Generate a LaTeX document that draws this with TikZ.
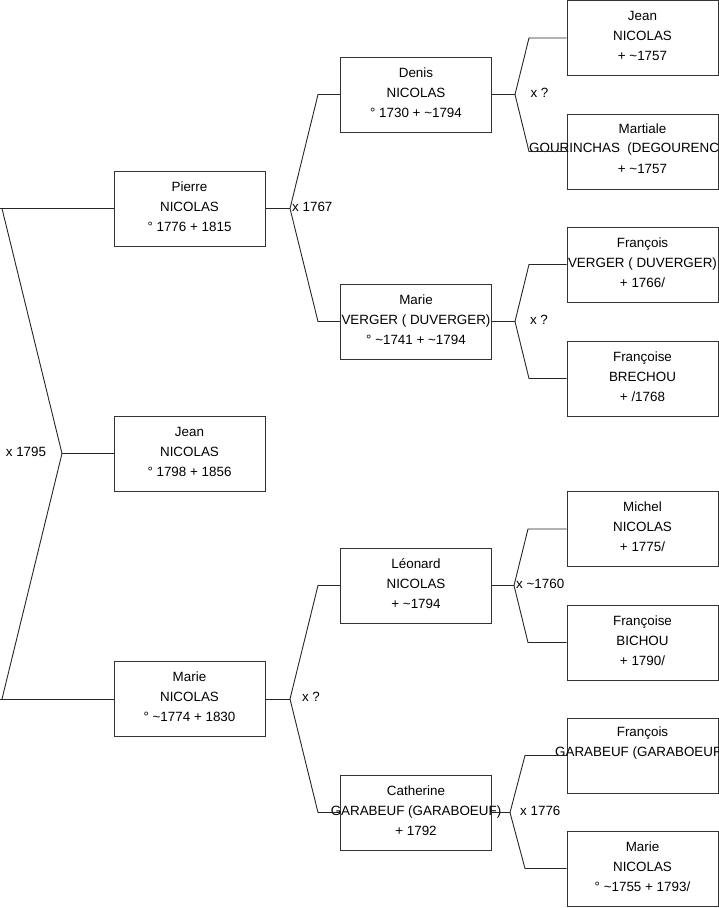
\documentclass[tikz,border=0pt]{standalone}
\usepackage{fontspec}
\setmainfont{Liberation Sans}
\begin{document}
\begin{tikzpicture}[x=1pt,y=-1pt,
  person/.style={draw=black!80, line width=0.9pt, minimum width=151pt, minimum height=75pt,
    inner sep=0pt},
  txt/.style={inner sep=0pt, align=center, yshift=2pt, font=\fontsize{13.4}{20}\selectfont},
  lbl/.style={inner sep=0pt, font=\fontsize{13.4}{20}\selectfont},
  link/.style={draw=black!85, line width=0.9pt}]
\useasboundingbox (0,0) rectangle (719,908);
% generation 1
\node[person, label={[txt]center:{Pierre\\NICOLAS\\° 1776 + 1815}}] (pierre) at (189.5,208.5) {};
\node[person, label={[txt]center:{Jean\\NICOLAS\\° 1798 + 1856}}] (jeanN) at (189.5,453.5) {};
\node[person, label={[txt]center:{Marie\\NICOLAS\\° \textasciitilde 1774 + 1830}}] (marieN) at (189.5,699) {};
% generation 2
\node[person, label={[txt]center:{Denis\\NICOLAS\\° 1730 + \textasciitilde 1794}}] (denis) at (416,94.5) {};
\node[person, label={[txt]center:{Marie\\VERGER ( DUVERGER)\\° \textasciitilde 1741 + \textasciitilde 1794}}] (marieV) at (416,321.5) {};
\node[person, label={[txt]center:{Léonard\\NICOLAS\\+ \textasciitilde 1794}}] (leonard) at (416,585.5) {};
\node[person, label={[txt]center:{Catherine\\GARABEUF (GARABOEUF)\\+ 1792}}] (catherine) at (416,812.5) {};
% generation 3
\node[person, label={[txt]center:{Jean\\NICOLAS\\+ \textasciitilde 1757}}] (jeanR) at (642.5,38) {};
\node[person] (martiale) at (642.5,151.5) {};
\node[lbl] at (642.5,129) {Martiale};
\node[lbl, anchor=west] at (529,149) {GOURINCHAS\ \ (DEGOURENC};
\node[lbl] at (642.5,169) {+ \textasciitilde 1757};
\node[person, label={[txt]center:{François\\VERGER ( DUVERGER)\\+ 1766/}}] (francoisV) at (642.5,264.5) {};
\node[person, label={[txt]center:{Françoise\\BRECHOU\\+ /1768}}] (francoiseB) at (642.5,378.5) {};
\node[person, label={[txt]center:{Michel\\NICOLAS\\+ 1775/}}] (michel) at (642.5,529) {};
\node[person, label={[txt]center:{Françoise\\BICHOU\\+ 1790/}}] (francoiseBi) at (642.5,642.5) {};
\node[person] (francoisG) at (642.5,755.5) {};
\node[lbl] at (642.5,733) {François};
\node[lbl, anchor=west] at (555,753) {GARABEUF (GARABOEUF};
\node[person, label={[txt]center:{Marie\\NICOLAS\\° \textasciitilde 1755 + 1793/}}] (marieR) at (642.5,868.5) {};
% level 0 connectors
\coordinate (l0a) at (0,208.5);
\coordinate (l0b) at (0,699);
\coordinate (d0a) at (2,208.5);
\coordinate (d0b) at (2,699);
\coordinate (v0) at (62,453.5);
\draw[link] (l0a) -- (pierre.west);
\draw[link] (l0b) -- (marieN.west);
\draw[link] (d0a) -- (v0) -- (d0b);
\draw[link] (v0) -- (jeanN.west);
\node[lbl] at (26,452) {x 1795};
% Pierre
\coordinate (v1) at (290,208.5);
\draw[link] (pierre.east) -- (v1);
\draw[link] (denis.west) -- (318,94.5) -- (v1) -- (318,321.5) -- (marieV.west);
\node[lbl, anchor=west] at (292,207) {x 1767};
% Marie N
\coordinate (v2) at (290,699);
\draw[link] (marieN.east) -- (v2);
\draw[link] (leonard.west) -- (318,585.5) -- (v2) -- (318,812.5) -- (catherine.west);
\node[lbl] at (311,697) {x ?};
% Denis
\coordinate (v3) at (515,94.5);
\draw[link] (denis.east) -- (v3);
\draw[link] (jeanR.west) -- (529,38) -- (v3) -- (529,151.5) -- (martiale.west);
\node[lbl] at (539.5,93) {x ?};
% Marie V
\coordinate (v4) at (515,321.5);
\draw[link] (marieV.east) -- (v4);
\draw[link] (francoisV.west) -- (529,264.5) -- (v4) -- (529,378.5) -- (francoiseB.west);
\node[lbl] at (539,320) {x ?};
% Leonard
\coordinate (v5) at (514,585.5);
\draw[link] (leonard.east) -- (v5);
\draw[link] (michel.west) -- (528,529) -- (v5) -- (528,642.5) -- (francoiseBi.west);
\node[lbl, anchor=west] at (516,584) {x \textasciitilde 1760};
% Catherine
\coordinate (v6) at (510,812.5);
\draw[link] (catherine.east) -- (v6);
\draw[link] (francoisG.west) -- (525,755.5) -- (v6) -- (525,868.5) -- (marieR.west);
\node[lbl, anchor=west] at (520,811) {x 1776};
\end{tikzpicture}
\end{document}
